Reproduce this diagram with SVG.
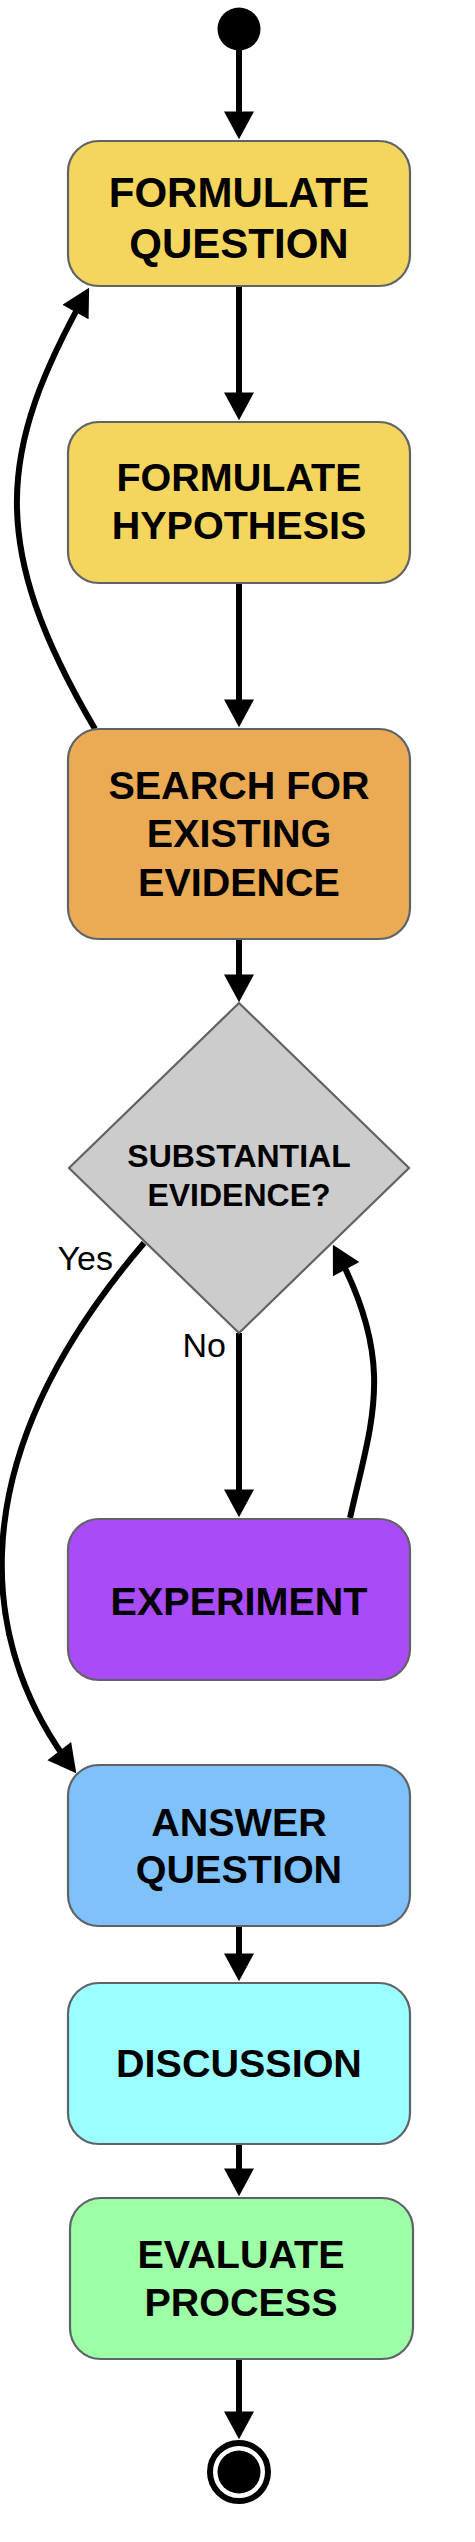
<svg xmlns="http://www.w3.org/2000/svg" width="475" height="2542" viewBox="0 0 475 2542">
<style>
.box{stroke:#5f6368;stroke-width:2.2}
.t{font-family:"Liberation Sans",Arial,Helvetica,sans-serif;font-weight:bold;fill:#000;text-anchor:middle}
.lbl{font-family:"Liberation Sans",Arial,Helvetica,sans-serif;fill:#000;font-size:34px}
.e{fill:none;stroke:#000;stroke-width:6}
</style>
<defs>
<marker id="arr" markerUnits="userSpaceOnUse" markerWidth="30" markerHeight="30" viewBox="0 0 26 28" refX="21" refY="14" orient="auto">
<path d="M0,0 L26,14 L0,28 z" fill="#000"/>
</marker>
</defs>
<rect width="475" height="2542" fill="#fff"/>
<g id="connectors">
<path class="e" marker-end="url(#arr)" d="M239,50 L239,134"/>
<path class="e" marker-end="url(#arr)" d="M239,286 L239,415"/>
<path class="e" marker-end="url(#arr)" d="M239,583 L239,722"/>
<path class="e" marker-end="url(#arr)" d="M239,939 L239,997"/>
<path class="e" marker-end="url(#arr)" d="M239,1333 L239,1512"/>
<path class="e" marker-end="url(#arr)" d="M239,1926 L239,1976"/>
<path class="e" marker-end="url(#arr)" d="M239,2144 L239,2191"/>
<path class="e" marker-end="url(#arr)" d="M239,2359 L239,2434"/>
<path class="e" marker-end="url(#arr)" d="M95,729 C-13,545 -2.4,451 86.5,292.4"/>
<path class="e" marker-end="url(#arr)" d="M144,1243 C-56,1477 -11,1660 73,1769"/>
<path class="e" marker-end="url(#arr)" d="M350,1518 C371.6,1420.9 397.3,1363.7 335.4,1249.4"/>
<text class="lbl" x="113" y="1270" text-anchor="end">Yes</text>
<text class="lbl" x="226" y="1357" text-anchor="end">No</text>
</g>
<g id="start"><circle cx="239" cy="29" r="21.5" fill="#000"/></g>
<g id="formulate-question">
<rect class="box" x="68" y="141" width="342" height="145" rx="31" fill="#f4d65e"/>
<text class="t" x="239" y="207" font-size="42">FORMULATE</text>
<text class="t" x="239" y="258" font-size="42">QUESTION</text>
</g>
<g id="formulate-hypothesis">
<rect class="box" x="68" y="422" width="342" height="161" rx="31" fill="#f4d65e"/>
<text class="t" x="239" y="491" font-size="39.5">FORMULATE</text>
<text class="t" x="239" y="539" font-size="39.5">HYPOTHESIS</text>
</g>
<g id="search-evidence">
<rect class="box" x="68" y="729" width="342" height="210" rx="31" fill="#ebab55"/>
<text class="t" x="239" y="799" font-size="39.5">SEARCH FOR</text>
<text class="t" x="239" y="847" font-size="39.5">EXISTING</text>
<text class="t" x="239" y="896" font-size="39.5">EVIDENCE</text>
</g>
<g id="substantial-evidence">
<polygon class="box" points="239,1003 409,1168 239,1333 69,1168" fill="#cccccc"/>
<text class="t" x="239" y="1167" font-size="32">SUBSTANTIAL</text>
<text class="t" x="239" y="1206" font-size="32">EVIDENCE?</text>
</g>
<g id="experiment">
<rect class="box" x="68" y="1519" width="342" height="161" rx="31" fill="#a94bf7"/>
<text class="t" x="239" y="1615" font-size="39.5">EXPERIMENT</text>
</g>
<g id="answer-question">
<rect class="box" x="68" y="1765" width="342" height="161" rx="31" fill="#7ec1fb"/>
<text class="t" x="239" y="1836" font-size="39.5">ANSWER</text>
<text class="t" x="239" y="1883" font-size="39.5">QUESTION</text>
</g>
<g id="discussion">
<rect class="box" x="68" y="1983" width="342" height="161" rx="31" fill="#9cffff"/>
<text class="t" x="239" y="2077" font-size="39.5">DISCUSSION</text>
</g>
<g id="evaluate-process">
<rect class="box" x="70" y="2198" width="343" height="161" rx="31" fill="#9dffa6"/>
<text class="t" x="241" y="2268" font-size="39.5">EVALUATE</text>
<text class="t" x="241" y="2316" font-size="39.5">PROCESS</text>
</g>
<g id="end">
<circle cx="239" cy="2472" r="29" fill="#fff" stroke="#000" stroke-width="6"/>
<circle cx="239" cy="2472" r="21.5" fill="#000"/>
</g>
</svg>
